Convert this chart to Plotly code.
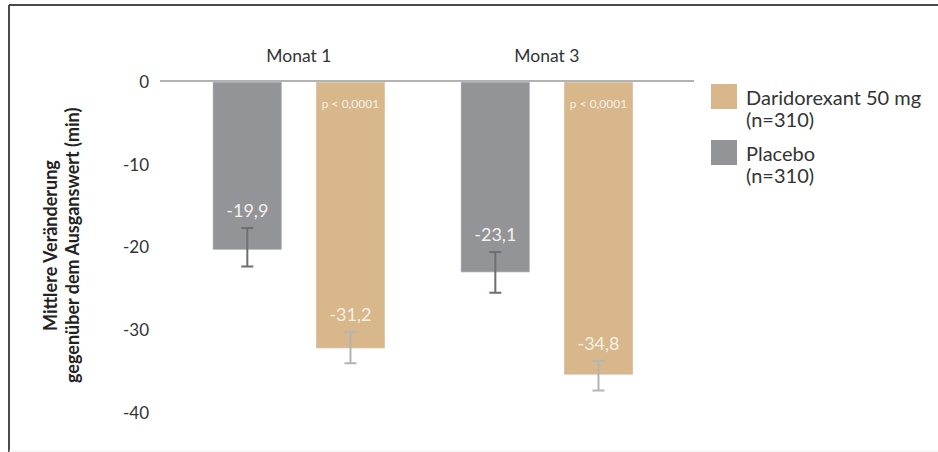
import plotly.graph_objects as go

# ---- data ----
categories = ["Monat 1", "Monat 3"]
series_names = ["Placebo", "Daridorexant 50 mg"]
legend_sub = ["(n=310)", "(n=310)"]
placebo_values = [-20.3, -23.0]
dari_values = [-32.2, -35.4]
placebo_err_up = [2.65, 2.45]
placebo_err_down = [2.0, 2.5]
dari_err_up = [1.95, 1.65]
dari_err_down = [1.8, 1.9]
placebo_labels = ["-19,9", "-23,1"]
dari_labels = ["-31,2", "-34,8"]
p_labels = ["p < 0,0001", "p < 0,0001"]
y_ticks = [0, -10, -20, -30, -40]
y_ticktext = ["0", "-10", "-20", "-30", "-40"]
y_title_lines = ["Mittlere Veränderung", "gegenüber dem Ausganswert (min)"]

# ---- styles ----
FONT = "Lato"
C_PLACEBO = "#939498"
C_DARI = "#d8b78a"
C_ERR_P = "#6e6f72"
C_ERR_D = "#b4b4b6"
C_LABEL = "#f5f0e8"
C_TEXT = "#333333"

W, H = 938, 452
ML, MR, MT, MB = 160, 244, 82, 19
PW, PH = W - ML - MR, H - MT - MB


def px_x(px):
    return (px - ML) / PW


def px_y(py):
    return (H - MB - py) / PH


fig = go.Figure()

fig.add_trace(go.Bar(
    x=categories, y=placebo_values, name=series_names[0], marker_color=C_PLACEBO,
    offsetgroup="p", showlegend=False,
    error_y=dict(type="data", symmetric=False, array=placebo_err_up,
                 arrayminus=placebo_err_down, color=C_ERR_P, thickness=2, width=6),
))
fig.add_trace(go.Bar(
    x=categories, y=dari_values, name=series_names[1], marker_color=C_DARI,
    offsetgroup="d", showlegend=False,
    error_y=dict(type="data", symmetric=False, array=dari_err_up,
                 arrayminus=dari_err_down, color=C_ERR_D, thickness=2, width=6),
))

# value labels above the error bar tops
fig.add_trace(go.Scatter(
    x=categories, y=[v + e for v, e in zip(placebo_values, placebo_err_up)],
    mode="markers+text", text=placebo_labels, textposition="top center",
    marker=dict(size=9, opacity=0), offsetgroup="p", showlegend=False,
    textfont=dict(family=FONT, size=18, color=C_LABEL), hoverinfo="skip", cliponaxis=False,
))
fig.add_trace(go.Scatter(
    x=categories, y=[v + e for v, e in zip(dari_values, dari_err_up)],
    mode="markers+text", text=dari_labels, textposition="top center",
    marker=dict(size=9, opacity=0), offsetgroup="d", showlegend=False,
    textfont=dict(family=FONT, size=18, color=C_LABEL), hoverinfo="skip", cliponaxis=False,
))
# p-values at top of Daridorexant bars
fig.add_trace(go.Scatter(
    x=categories, y=[0, 0],
    mode="markers+text", text=p_labels, textposition="bottom center",
    marker=dict(size=26, opacity=0), offsetgroup="d", showlegend=False,
    textfont=dict(family=FONT, size=12, color=C_LABEL), hoverinfo="skip", cliponaxis=False,
))

# manual legend
shapes = []
annotations = []
legend_items = [(series_names[1], legend_sub[1], C_DARI, 84),
                (series_names[0], legend_sub[0], C_PLACEBO, 140)]
for name, sub, col, top in legend_items:
    shapes.append(dict(type="rect", xref="paper", yref="paper",
                       x0=px_x(711), x1=px_x(737), y0=px_y(top + 25), y1=px_y(top),
                       fillcolor=col, line=dict(width=0)))
    for k, line in enumerate([name, sub]):
        annotations.append(dict(xref="paper", yref="paper", x=px_x(744),
                                y=px_y(top + 13 + k * 22),
                                xanchor="left", yanchor="middle", align="left",
                                showarrow=False, text=line,
                                font=dict(family=FONT, size=20, color=C_TEXT)))

# y-axis title (two lines, rotated)
for k, line in enumerate(y_title_lines):
    annotations.append(dict(xref="paper", yref="paper", x=px_x(50 + k * 22), y=px_y(246),
                            xanchor="center", yanchor="middle", textangle=-90,
                            showarrow=False, text=f"<b>{line}</b>",
                            font=dict(family=FONT, size=18, color="#222222")))

# frame lines
shapes.append(dict(type="line", xref="paper", yref="paper",
                   x0=px_x(9), x1=px_x(938), y0=px_y(5), y1=px_y(5),
                   line=dict(color="#4a4a4a", width=2)))
shapes.append(dict(type="line", xref="paper", yref="paper",
                   x0=px_x(9), x1=px_x(9), y0=px_y(5), y1=px_y(452),
                   line=dict(color="#4a4a4a", width=2)))
shapes.append(dict(type="line", xref="paper", yref="paper",
                   x0=px_x(9), x1=px_x(938), y0=px_y(451), y1=px_y(451),
                   line=dict(color="#eeeeee", width=1)))

fig.update_layout(
    width=W, height=H,
    margin=dict(l=ML, r=MR, t=MT, b=MB),
    paper_bgcolor="white", plot_bgcolor="white",
    barmode="group", bargap=0.168, bargroupgap=0.332,
    scattermode="group", scattergap=0.168,
    font=dict(family=FONT, color=C_TEXT),
    shapes=shapes, annotations=annotations,
    xaxis=dict(type="category", side="top", range=[-0.56, 1.593],
               showline=True, linecolor="#b3b3b3", linewidth=2, ticks="",
               showgrid=False, zeroline=False, ticklabelstandoff=11,
               tickfont=dict(family=FONT, size=17.5, color=C_TEXT)),
    yaxis=dict(range=[-42.45, 0], tickvals=y_ticks, ticktext=y_ticktext,
               showgrid=False, zeroline=False, showline=False, ticks="",
               ticklabelstandoff=10,
               tickfont=dict(family=FONT, size=17, color=C_TEXT)),
)

fig.write_html("out.html",
               config={"displayModeBar": False},
               post_script="document.body.style.margin='0';document.body.style.padding='0';")
